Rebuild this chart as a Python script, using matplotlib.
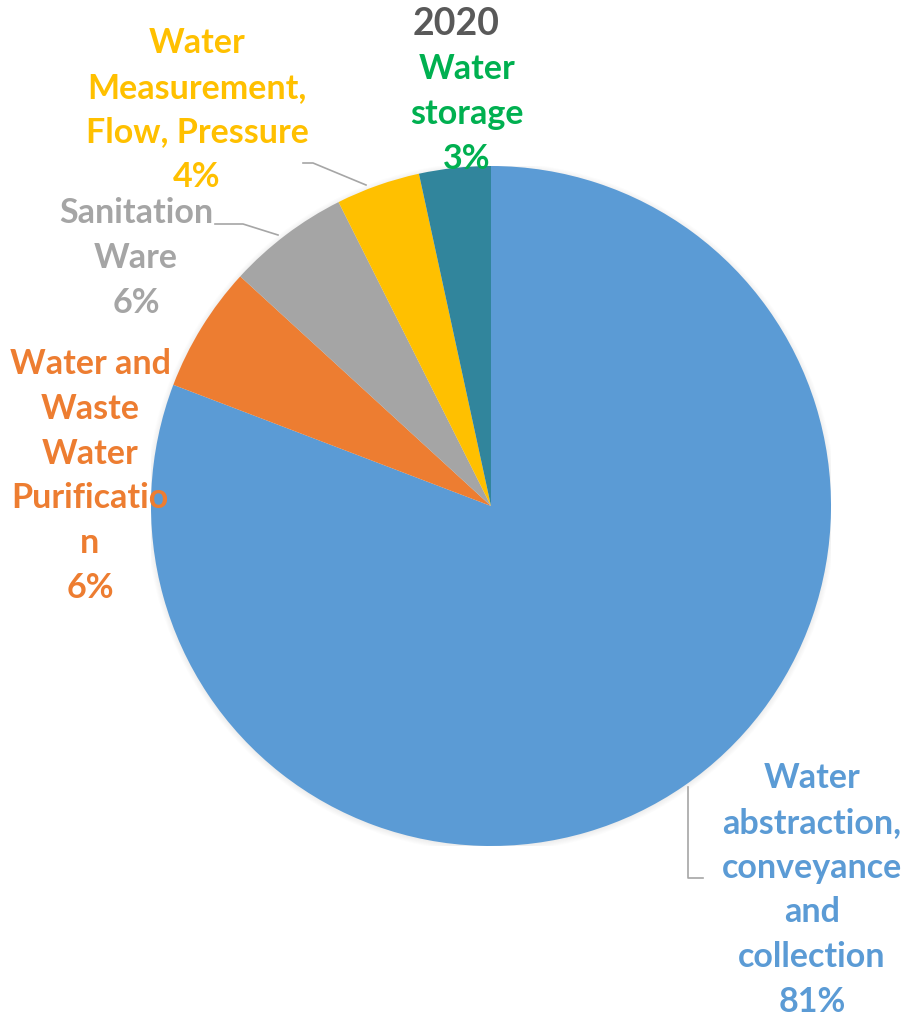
import matplotlib.pyplot as plt
from matplotlib.patches import Circle

# slice data, clockwise from 12 o'clock
labels = ['Water\nabstraction,\nconveyance\nand\ncollection\n81%',
          'Water and\nWaste\nWater\nPurificatio\nn\n6%',
          'Sanitation\nWare\n6%',
          'Water\nMeasurement,\nFlow, Pressure\n4%',
          'Water\nstorage\n3%']
shares = [80.8, 6.0, 5.8, 4.0, 3.4]
colors = ['#5B9BD5', '#ED7D31', '#A5A5A5', '#FFC000', '#31859C']
label_colors = ['#5B9BD5', '#ED7D31', '#A5A5A5', '#FFC000', '#00B050']
title = '2020'

W, H = 906, 1021
cx, cy, R = 491, 506, 340

fig = plt.figure(figsize=(W / 100, H / 100), dpi=100)
ax = fig.add_axes([(cx - R) / W, (H - cy - R) / H, 2 * R / W, 2 * R / H])
ax.axis('off')


def px(x, y):
    # pixel position -> data coords of the pie axes
    return (x - cx) / R, (cy - y) / R


# soft shadow behind the pie
for k in range(6):
    ax.add_patch(Circle((0.0, -0.003), 1 + 0.003 * k, color='black',
                        alpha=0.012, lw=0, zorder=0))

ax.pie(shares, colors=colors, startangle=90, counterclock=False, radius=1,
       wedgeprops=dict(linewidth=0), center=(0, 0), frame=False)
ax.set_xlim(-1, 1)
ax.set_ylim(-1, 1)
ax.set_aspect('auto')

font = dict(family='Lato', weight='bold', fontsize=24.5, ha='center',
            va='center', linespacing=1.49)
label_pos = [(812, 890), (90, 476), (136, 258), (197, 110), (467, 114)]
for text, (x, y), c in zip(labels, label_pos, label_colors):
    ax.text(*px(x, y), text, color=c, clip_on=False, **font)

ax.text(*px(456, 24), title, color='#595959', clip_on=False,
        **{**font, 'fontsize': 27})

# leader lines
leaders = [
    [(703, 878), (688, 878), (688, 787)],
    [(215, 224), (243, 224), (278, 235)],
    [(303, 163), (313, 163), (366, 185)],
]
for pts in leaders:
    xs, ys = zip(*[px(x, y) for x, y in pts])
    ax.plot(xs, ys, color='#A6A6A6', lw=1.2, clip_on=False)

fig.savefig('out.png', dpi=100)
